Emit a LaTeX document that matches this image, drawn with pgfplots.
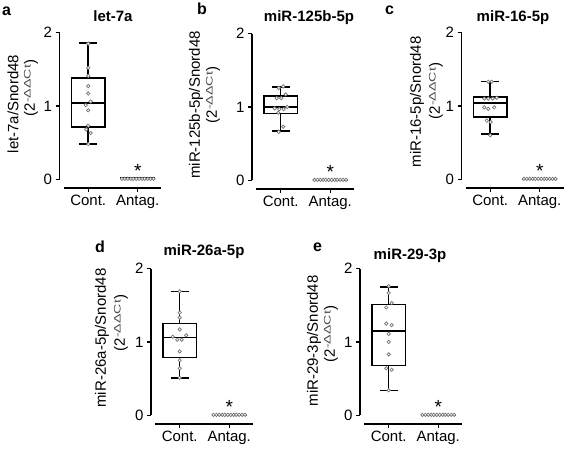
\documentclass[border=0pt]{standalone}
\usepackage{fontspec}
\setmainfont{Liberation Sans}
\usepackage{graphicx}
\usepackage{xcolor}
\usepackage{pgfplots}
\pgfplotsset{compat=1.18}

\newcommand{\fs}{\fontsize{15bp}{17bp}\selectfont}
\newcommand{\ddct}{(2\raisebox{0.55ex}{\textcolor{black!70}{\scalebox{1.5}[1]{\fontsize{9.5bp}{10bp}\selectfont -ΔΔCt}}})}

\pgfplotsset{
 panel/.style={
  scale only axis, width=102bp, height=155.4bp,
  xmin=-0.58, xmax=1.48, ymin=-0.12, ymax=2,
  axis x line*=bottom, axis y line*=left,
  axis line style={line width=1.4bp},
  x axis line style={-, shorten <=4bp},
  y axis line style={-, shorten <=8.8bp},
  xtick={0,1}, xticklabels={Cont.,Antag.},
  ytick={0,1,2},
  tick align=outside, major tick length=4bp,
  tick style={black, line width=1.4bp},
  ticklabel style={font=\fs},
  /pgf/number format/assume math mode=true,
  clip=false, anchor=south west,
 },
 bx/.style={black, line width=1.5bp, solid, mark=none, line join=miter},
 pts/.style={only marks, mark=*, mark size=1.7bp, mark options={draw=black!55, fill=white, line width=0.7bp}},
}
\tikzset{ast/.style={font=\fontsize{19bp}{19bp}\selectfont, anchor=base}}

% box for Cont. at x=0: lower whisker, lower quartile, median, upper quartile, upper whisker
\newcommand{\contbox}[5]{%
\addplot[bx] coordinates {(0,#4) (0,#5)};
\addplot[bx] coordinates {(0,#2) (0,#1)};
\addplot[bx] coordinates {(-0.18,#5) (0.18,#5)};
\addplot[bx] coordinates {(-0.18,#1) (0.18,#1)};
\addplot[bx] coordinates {(-0.335,#2) (0.335,#2) (0.335,#4) (-0.335,#4) (-0.335,#2) (0.335,#2)};
\addplot[bx] coordinates {(-0.335,#3) (0.335,#3)};
}
% flat box for Antag. at x=1
\newcommand{\antagbox}[3]{%
\addplot[bx] coordinates {(0.665,#1) (1.335,#1) (1.335,#3) (0.665,#3) (0.665,#1) (1.335,#1)};
\addplot[bx] coordinates {(0.665,#2) (1.335,#2)};
}

\begin{document}
\begin{tikzpicture}
\path[use as bounding box] (0,0) rectangle (567bp,450bp);

% ---------- a ----------
\begin{axis}[panel, at={(59.5bp,262bp)}]
\contbox{0.48}{0.71}{1.04}{1.38}{1.86}
\antagbox{0.008}{0.015}{0.022}
\addplot[pts] coordinates {(0,1.85) (0,1.52) (0,1.41) (0,1.27) (0,1.17) (0.05,1.06) (-0.05,1.01) (0,0.94) (0,0.73) (-0.04,0.68) (0.05,0.63) (0,0.48)};
\addplot[pts] coordinates {(0.68,0.005) (0.74,0.005) (0.80,0.005) (0.86,0.005) (0.91,0.005) (0.97,0.005) (1.03,0.005) (1.09,0.005) (1.14,0.005) (1.20,0.005) (1.26,0.005) (1.32,0.005)};
\node[ast] at (axis cs:1,0.02) {*};
\end{axis}

% ---------- b ----------
\begin{axis}[panel, at={(252bp,261bp)}]
\contbox{0.67}{0.91}{1.00}{1.15}{1.27}
\antagbox{0.004}{0.006}{0.008}
\addplot[pts] coordinates {(-0.04,1.26) (0.05,1.28) (-0.08,1.12) (0.01,1.12) (0.10,1.17) (-0.12,0.98) (-0.03,0.97) (0.06,0.97) (0.13,1.00) (-0.05,0.92) (0.05,0.73) (-0.04,0.66)};
\addplot[pts] coordinates {(0.68,0.005) (0.74,0.005) (0.80,0.005) (0.86,0.005) (0.91,0.005) (0.97,0.005) (1.03,0.005) (1.09,0.005) (1.14,0.005) (1.20,0.005) (1.26,0.005) (1.32,0.005)};
\node[ast] at (axis cs:1,0.02) {*};
\end{axis}

% ---------- c ----------
\begin{axis}[panel, at={(461.5bp,262bp)}]
\contbox{0.62}{0.85}{1.04}{1.12}{1.33}
\antagbox{0.004}{0.006}{0.008}
\addplot[pts] coordinates {(-0.04,1.33) (0.03,1.33) (-0.12,1.10) (-0.04,1.10) (0.05,1.10) (0.13,1.11) (-0.12,0.98) (-0.04,0.96) (0.08,0.98) (-0.07,0.80) (0.01,0.78) (0,0.60)};
\addplot[pts] coordinates {(0.68,0.005) (0.74,0.005) (0.80,0.005) (0.86,0.005) (0.91,0.005) (0.97,0.005) (1.03,0.005) (1.09,0.005) (1.14,0.005) (1.20,0.005) (1.26,0.005) (1.32,0.005)};
\node[ast] at (axis cs:1,0.02) {*};
\end{axis}

% ---------- d ----------
\begin{axis}[panel, at={(151bp,26bp)}]
\contbox{0.51}{0.79}{1.06}{1.25}{1.69}
\antagbox{0.004}{0.006}{0.008}
\addplot[pts] coordinates {(0,1.69) (0,1.40) (0,1.33) (0,1.17) (-0.14,1.07) (-0.05,1.03) (0.04,1.03) (0.13,1.09) (0,0.87) (0,0.75) (0,0.64) (0,0.51)};
\addplot[pts] coordinates {(0.68,0.005) (0.74,0.005) (0.80,0.005) (0.86,0.005) (0.91,0.005) (0.97,0.005) (1.03,0.005) (1.09,0.005) (1.14,0.005) (1.20,0.005) (1.26,0.005) (1.32,0.005)};
\node[ast] at (axis cs:1,0.02) {*};
\end{axis}

% ---------- e ----------
\begin{axis}[panel, at={(360bp,26bp)}]
\contbox{0.34}{0.68}{1.15}{1.51}{1.75}
\antagbox{0.004}{0.006}{0.008}
\addplot[pts] coordinates {(0,1.76) (0,1.67) (0.06,1.53) (-0.05,1.47) (-0.05,1.25) (0.06,1.23) (0,1.11) (0,1.00) (0,0.83) (-0.05,0.64) (0.06,0.62) (0,0.34)};
\addplot[pts] coordinates {(0.68,0.005) (0.74,0.005) (0.80,0.005) (0.86,0.005) (0.91,0.005) (0.97,0.005) (1.03,0.005) (1.09,0.005) (1.14,0.005) (1.20,0.005) (1.26,0.005) (1.32,0.005)};
\node[ast] at (axis cs:1,0.02) {*};
\end{axis}

% panel letters
\begin{scope}[every node/.style={font=\fontsize{16bp}{16bp}\selectfont\bfseries, anchor=base west, inner sep=0}]
\node at (2bp,434bp) {a};
\node at (197bp,435bp) {b};
\node at (385bp,435bp) {c};
\node at (95bp,197bp) {d};
\node at (313bp,198bp) {e};
\end{scope}

% titles
\begin{scope}[every node/.style={font=\fs\bfseries, anchor=base, inner sep=0}]
\node at (113bp,428bp) {let-7a};
\node at (309bp,428bp) {miR-125b-5p};
\node at (513bp,428bp) {miR-16-5p};
\node at (204bp,194bp) {miR-26a-5p};
\node at (410bp,190bp) {miR-29-3p};
\end{scope}

% y labels
\begin{scope}[every node/.style={font=\fs, rotate=90, inner sep=0}]
\node at (13bp,346bp) {let-7a/Snord48};
\node at (31bp,362bp) {\ddct};
\node at (196bp,345bp) {miR-125b-5p/Snord48};
\node at (213bp,355bp) {\ddct};
\node at (417bp,348bp) {miR-16-5p/Snord48};
\node at (436bp,359bp) {\ddct};
\node at (102bp,112bp) {miR-26a-5p/Snord48};
\node at (121bp,127bp) {\ddct};
\node at (314bp,109bp) {miR-29-3p/Snord48};
\node at (331bp,116bp) {\ddct};
\end{scope}
\end{tikzpicture}
\end{document}
